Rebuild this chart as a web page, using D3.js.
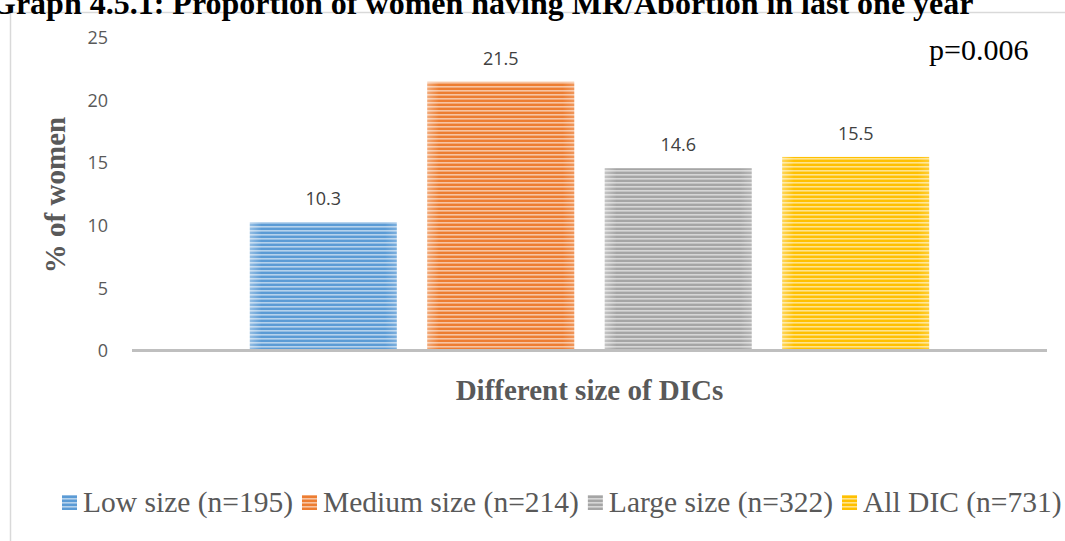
<!DOCTYPE html>
<html>
<head>
<meta charset="utf-8">
<script src="https://cdn.jsdelivr.net/npm/d3@7"></script>
<style>
  body { margin: 0; background: #fff; }
  svg { display: block; }
</style>
</head>
<body>
<svg id="chart" width="1065" height="541"></svg>
<script>
const series = ["Low size (n=195)", "Medium size (n=214)", "Large size (n=322)", "All DIC (n=731)"];
const values = [10.3, 21.5, 14.6, 15.5];
const colors = ["#5B9BD5", "#ED7D31", "#A5A5A5", "#FFC000"];
const yTicks = [0, 5, 10, 15, 20, 25];

const width = 1065;
const height = 541;
const svg = d3.select("#chart");
const serif = "'Liberation Serif', 'Times New Roman', serif";

const plot = { left: 132, right: 1047, top: 38, bottom: 351 };

const xScale = d3.scaleBand()
  .domain(series)
  .range([plot.left, plot.right])
  .paddingInner(0.172)
  .paddingOuter(0.664);

const yScale = d3.scaleLinear()
  .domain([0, 25])
  .range([plot.bottom, plot.top]);

// striped fills, one per series
const defs = svg.append("defs");
colors.forEach((c, i) => {
  const p = defs.append("pattern")
    .attr("id", "stripe" + i)
    .attr("patternUnits", "userSpaceOnUse")
    .attr("width", 8)
    .attr("height", 4);
  p.append("rect").attr("width", 8).attr("height", 4).attr("fill", c);
  p.append("rect").attr("y", 2).attr("width", 8).attr("height", 1.6)
    .attr("fill", "#fff").attr("opacity", 0.55);

  const g = defs.append("linearGradient").attr("id", "edge" + i);
  g.append("stop").attr("offset", "0%").attr("stop-color", "#fff").attr("stop-opacity", 0.35);
  g.append("stop").attr("offset", "8%").attr("stop-color", "#fff").attr("stop-opacity", 0);
  g.append("stop").attr("offset", "92%").attr("stop-color", "#fff").attr("stop-opacity", 0);
  g.append("stop").attr("offset", "100%").attr("stop-color", "#fff").attr("stop-opacity", 0.2);
});

// chart frame
svg.append("path")
  .attr("d", `M10.5,${height} V12.5 H${width}`)
  .attr("fill", "none")
  .attr("stroke", "#D9D9D9")
  .attr("stroke-width", 1.5);

// title (its top is cropped in the source picture)
svg.append("text")
  .attr("x", -9)
  .attr("y", 14)
  .text("Graph 4.5.1: Proportion of women having MR/Abortion in last one year")
  .style("font-family", serif)
  .style("font-weight", "bold")
  .style("font-size", "32px")
  .attr("fill", "#000");

// y axis
const yAxis = d3.axisLeft(yScale).tickValues(yTicks).tickSize(0).tickPadding(24);
const yAxisG = svg.append("g")
  .attr("transform", `translate(${plot.left},0)`)
  .call(yAxis);
yAxisG.select(".domain").remove();
yAxisG.selectAll("text")
  .style("font-family", "'Open Sans', sans-serif")
  .style("font-size", "18px")
  .attr("fill", "#595959");

// bars
svg.selectAll(".bar")
  .data(values)
  .enter()
  .append("rect")
  .attr("class", "bar")
  .attr("x", (d, i) => xScale(series[i]))
  .attr("y", d => yScale(d))
  .attr("width", xScale.bandwidth())
  .attr("height", d => yScale(0) - yScale(d))
  .attr("fill", (d, i) => `url(#stripe${i})`);

svg.selectAll(".edge")
  .data(values)
  .enter()
  .append("rect")
  .attr("class", "edge")
  .attr("x", (d, i) => xScale(series[i]))
  .attr("y", d => yScale(d))
  .attr("width", xScale.bandwidth())
  .attr("height", d => yScale(0) - yScale(d))
  .attr("fill", (d, i) => `url(#edge${i})`);

// value labels
svg.selectAll(".label")
  .data(values)
  .enter()
  .append("text")
  .attr("class", "label")
  .attr("x", (d, i) => xScale(series[i]) + xScale.bandwidth() / 2)
  .attr("y", d => yScale(d) - 17)
  .attr("text-anchor", "middle")
  .text(d => d.toFixed(1))
  .style("font-family", "'Open Sans', sans-serif")
  .style("font-size", "18px")
  .attr("fill", "#404040");

// baseline
svg.append("line")
  .attr("x1", plot.left)
  .attr("x2", plot.right)
  .attr("y1", yScale(0) - 0.5)
  .attr("y2", yScale(0) - 0.5)
  .attr("stroke", "#BFBFBF")
  .attr("stroke-width", 3);

// axis titles
svg.append("text")
  .attr("transform", `translate(65,195) rotate(-90)`)
  .attr("text-anchor", "middle")
  .text("% of women")
  .style("font-family", serif)
  .style("font-weight", "bold")
  .style("font-size", "29px")
  .attr("fill", "#595959");

svg.append("text")
  .attr("x", (plot.left + plot.right) / 2)
  .attr("y", 400)
  .attr("text-anchor", "middle")
  .text("Different size of DICs")
  .style("font-family", serif)
  .style("font-weight", "bold")
  .style("font-size", "29px")
  .attr("fill", "#595959");

svg.append("text")
  .attr("x", 929)
  .attr("y", 60)
  .text("p=0.006")
  .style("font-family", serif)
  .style("font-size", "30px")
  .attr("fill", "#000");

// legend
const legend = svg.append("g").attr("transform", "translate(62,512)");
let lx = 0;
series.forEach((s, i) => {
  legend.append("rect")
    .attr("x", lx)
    .attr("y", -17)
    .attr("width", 15)
    .attr("height", 15)
    .attr("fill", `url(#stripe${i})`);
  const t = legend.append("text")
    .attr("x", lx + 21)
    .attr("y", 0)
    .text(s)
    .style("font-family", serif)
    .style("font-size", "29.5px")
    .attr("fill", "#595959");
  lx += 21 + t.node().getComputedTextLength() + 9;
});
</script>
</body>
</html>
